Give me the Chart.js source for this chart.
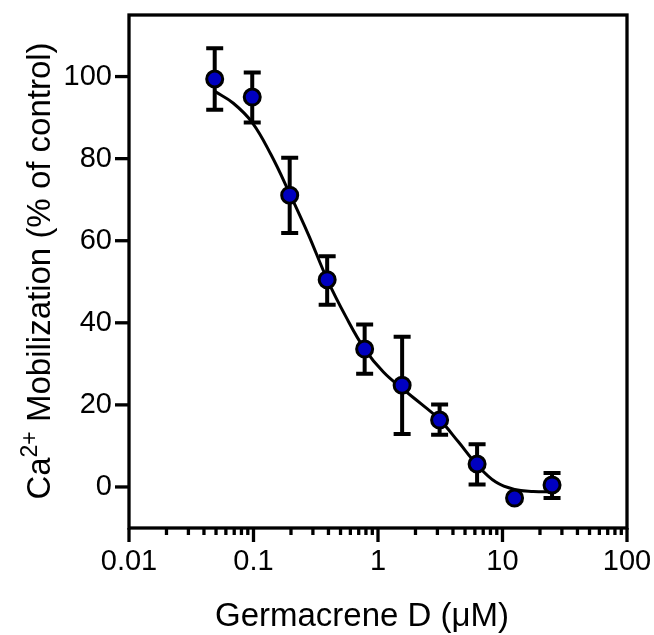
<!DOCTYPE html>
<html>
<head>
<meta charset="utf-8">
<script src="https://cdn.jsdelivr.net/npm/chart.js@4.4.1/dist/chart.umd.min.js"></script>
<style>
  html, body { margin: 0; padding: 0; background: #fff; }
  #wrap { width: 654px; height: 635px; }
</style>
</head>
<body>
<div id="wrap"><canvas id="chart" width="654" height="635"></canvas></div>
<script>
// concentrations (uM) and measured response (% of control)
const conc = [0.0488, 0.0977, 0.1953, 0.3906, 0.7813, 1.5625, 3.125, 6.25, 12.5, 25];
const meanVals = [99.4, 95.0, 71.1, 50.5, 33.6, 24.8, 16.3, 5.6, -2.7, 0.5];
const errUp = [106.9, 101.0, 80.2, 56.2, 39.6, 36.6, 20.1, 10.4, -2.7, 3.4];
const errDown = [91.9, 88.8, 61.9, 44.4, 27.6, 12.9, 12.7, 0.6, -2.7, -2.7];
// fitted curve
const fitX = [0.0488, 0.0689, 0.0977, 0.1381, 0.1953, 0.276, 0.3906, 0.552, 0.7813, 1.105,
              1.5625, 2.21, 3.125, 4.42, 6.25, 8.84, 12.5, 17.7, 25];
const fitY = [96.4, 93.5, 88.8, 81.0, 71.5, 61.5, 50.6, 41.5, 33.6, 28.0,
              24.0, 20.3, 16.4, 11.0, 5.4, 1.2, -0.6, -1.1, -1.2];

const xTicks = [0.01, 0.1, 1, 10, 100];
const yTicks = [0, 20, 40, 60, 80, 100];

const FONT = "'Liberation Sans', Arial, sans-serif";

// error bars, frame, tick marks, axis titles
const extras = {
  id: 'extras',
  beforeDatasetsDraw(chart) {
    const ctx = chart.ctx;
    const xs = chart.scales.x, ys = chart.scales.y;
    ctx.save();
    ctx.strokeStyle = '#000';
    ctx.lineWidth = 4;
    for (let i = 0; i < conc.length; i++) {
      if (errUp[i] === errDown[i]) continue;
      const px = xs.getPixelForValue(conc[i]);
      const top = ys.getPixelForValue(errUp[i]);
      const bot = ys.getPixelForValue(errDown[i]);
      ctx.beginPath();
      ctx.moveTo(px, top); ctx.lineTo(px, bot);
      ctx.moveTo(px - 8.5, top); ctx.lineTo(px + 8.5, top);
      ctx.moveTo(px - 8.5, bot); ctx.lineTo(px + 8.5, bot);
      ctx.stroke();
    }
    ctx.restore();
  },
  afterDraw(chart) {
    const ctx = chart.ctx;
    const a = chart.chartArea;
    const xs = chart.scales.x, ys = chart.scales.y;
    ctx.save();
    ctx.strokeStyle = '#000';
    ctx.lineWidth = 3.3;
    ctx.lineCap = 'square';
    ctx.strokeRect(a.left, a.top, a.right - a.left, a.bottom - a.top);

    // y tick marks
    ctx.lineCap = 'butt';
    yTicks.forEach(v => {
      const py = ys.getPixelForValue(v);
      ctx.beginPath(); ctx.moveTo(a.left - 14, py); ctx.lineTo(a.left, py); ctx.stroke();
    });
    // x tick marks, decades long and 2..9 short
    for (let d = 0; d < xTicks.length; d++) {
      const dec = xTicks[d];
      let px = xs.getPixelForValue(dec);
      ctx.beginPath(); ctx.moveTo(px, a.bottom); ctx.lineTo(px, a.bottom + 14); ctx.stroke();
      if (d === xTicks.length - 1) break;
      for (let m = 2; m < 10; m++) {
        px = xs.getPixelForValue(dec * m);
        ctx.beginPath(); ctx.moveTo(px, a.bottom); ctx.lineTo(px, a.bottom + 7); ctx.stroke();
      }
    }

    // x title
    ctx.fillStyle = '#000';
    ctx.font = '33px ' + FONT;
    ctx.textAlign = 'center';
    ctx.textBaseline = 'alphabetic';
    ctx.fillText('Germacrene D (\u03BCM)', 362, 626);

    // y title with superscript
    ctx.translate(50, 271);
    ctx.rotate(-Math.PI / 2);
    const big = '33px ' + FONT, small = '23px ' + FONT;
    const parts = [['Ca', big, 0], ['2+', small, -13], [' Mobilization (% of control)', big, 0]];
    let w = 0;
    parts.forEach(p => { ctx.font = p[1]; w += ctx.measureText(p[0]).width; });
    let x = -w / 2;
    ctx.textAlign = 'left';
    parts.forEach(p => {
      ctx.font = p[1];
      ctx.fillText(p[0], x, p[2]);
      x += ctx.measureText(p[0]).width;
    });
    ctx.restore();
  }
};

new Chart(document.getElementById('chart'), {
  type: 'scatter',
  data: {
    datasets: [
      {
        type: 'line',
        label: 'fit',
        data: fitX.map((c, i) => ({ x: c, y: fitY[i] })),
        borderColor: '#000',
        borderWidth: 3,
        pointRadius: 0,
        tension: 0.4,
        fill: false,
        order: 2
      },
      {
        label: 'mean',
        data: conc.map((c, i) => ({ x: c, y: meanVals[i] })),
        backgroundColor: '#0000c0',
        borderColor: '#000',
        borderWidth: 3,
        pointRadius: 8,
        order: 1
      }
    ]
  },
  options: {
    responsive: false,
    animation: false,
    layout: { padding: { top: 15, right: 27, left: 0, bottom: 0 } },
    plugins: { legend: { display: false }, tooltip: { enabled: false } },
    scales: {
      x: {
        type: 'logarithmic',
        min: 0.01,
        max: 100,
        afterBuildTicks: s => { s.ticks = xTicks.map(v => ({ value: v })); },
        afterFit: s => { s.height = 107; s.paddingLeft = 0; s.paddingRight = 0; },
        grid: { display: false },
        border: { display: false },
        ticks: {
          color: '#000',
          font: { family: FONT, size: 29 },
          padding: 9,
          maxRotation: 0,
          autoSkip: false,
          callback: v => String(v)
        }
      },
      y: {
        min: -10,
        max: 115,
        afterBuildTicks: s => { s.ticks = yTicks.map(v => ({ value: v })); },
        afterFit: s => { s.width = 129; s.paddingTop = 0; s.paddingBottom = 0; },
        grid: { display: false },
        border: { display: false },
        ticks: {
          color: '#000',
          font: { family: FONT, size: 29 },
          padding: 9
        }
      }
    }
  },
  plugins: [extras]
});
</script>
</body>
</html>
